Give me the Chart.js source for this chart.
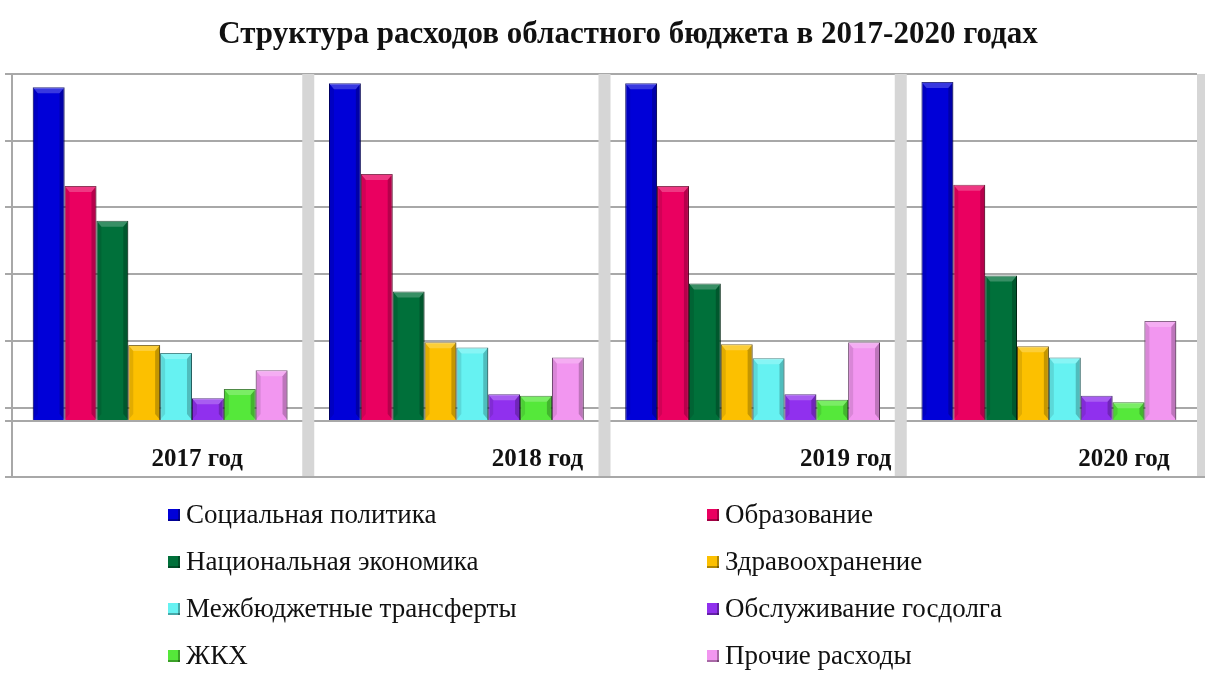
<!DOCTYPE html>
<html>
<head>
<meta charset="utf-8">
<script src="https://cdn.jsdelivr.net/npm/chart.js@4"></script>
<style>
  body { margin: 0; background: #fff; width: 1212px; height: 682px; overflow: hidden; }
  #wrap { position: relative; width: 1212px; height: 682px; }
</style>
</head>
<body>
<div id="wrap"><canvas id="chart"></canvas></div>
<script>
// categories and series (units: share of spending)
const years = ['2017 год', '2018 год', '2019 год', '2020 год'];
const seriesNames = [
  'Социальная политика', 'Образование',
  'Национальная экономика', 'Здравоохранение',
  'Межбюджетные трансферты', 'Обслуживание госдолга',
  'ЖКХ', 'Прочие расходы'
];
const social    = [25.0, 25.3, 25.3, 25.4];
const education = [17.6, 18.5, 17.6, 17.7];
const economy   = [15.0, 9.7, 10.3, 10.9];
const health    = [5.7, 5.9, 5.75, 5.6];
const transfers = [5.1, 5.5, 4.7, 4.75];
const debt      = [1.7, 2.0, 2.0, 1.9];
const housing   = [2.4, 1.9, 1.6, 1.4];
const other     = [3.8, 4.75, 5.9, 7.5];
const gridValues = [0, 1, 6, 11, 16, 21, 26];
const chartTitle = 'Структура расходов областного бюджета в 2017-2020 годах';

const seriesValues = [social, education, economy, health, transfers, debt, housing, other];
const fillColors = ['#0000d8', '#ea0060', '#00703a', '#fcc000', '#66f2f2', '#9030ee', '#55e83a', '#f296f0'];
const edgeColors = ['#00006a', '#70002c', '#003018', '#6a5000', '#207070', '#3a1070', '#1f6a14', '#6a3c6a'];

const serif = '"Liberation Serif", "Times New Roman", serif';
// per-year horizontal shift of the category label (the original places them right of centre)
const labelShift = [37, 81, 93, 75];

const panelDecor = {
  id: 'panelDecor',
  beforeDatasetsDraw(chart) {
    const {ctx, chartArea, scales} = chart;
    const x = scales.x;
    const bottom = 477;
    ctx.save();
    ctx.fillStyle = '#d6d6d6';
    for (let i = 1; i <= years.length; i++) {
      const edge = x.getPixelForValue(i - 0.5);
      if (i === years.length) ctx.fillRect(chartArea.right, chartArea.top, 8, bottom - chartArea.top);
      else ctx.fillRect(edge - 6, chartArea.top, 12, bottom - chartArea.top);
    }
    ctx.restore();
  },
  afterDatasetsDraw(chart) {
    // soft bevel on each bar, like the Excel column style
    const ctx = chart.ctx;
    ctx.save();
    chart.data.datasets.forEach((ds, di) => {
      chart.getDatasetMeta(di).data.forEach(bar => {
        const {x, y, base, width} = bar.getProps(['x', 'y', 'base', 'width'], true);
        const l = x - width / 2, r = x + width / 2;
        const b = Math.min(6, (base - y) / 2), s = Math.min(5, width / 4);
        ctx.fillStyle = 'rgba(255,255,255,0.22)';
        ctx.beginPath();
        ctx.moveTo(l, y); ctx.lineTo(r, y); ctx.lineTo(r - s, y + b); ctx.lineTo(l + s, y + b);
        ctx.fill();
        ctx.fillStyle = 'rgba(0,0,0,0.22)';
        ctx.beginPath();
        ctx.moveTo(r, y); ctx.lineTo(r, base); ctx.lineTo(r - s, base - b); ctx.lineTo(r - s, y + b);
        ctx.fill();
        ctx.fillStyle = 'rgba(0,0,0,0.1)';
        ctx.beginPath();
        ctx.moveTo(l, y); ctx.lineTo(l + s, y + b); ctx.lineTo(l + s, base - b); ctx.lineTo(l, base);
        ctx.fill();
      });
    });
    ctx.restore();
  },
  afterDraw(chart) {
    const {ctx, chartArea, scales} = chart;
    const x = scales.x;
    const bottom = 477;
    ctx.save();
    // frame below the base line
    ctx.strokeStyle = '#a8a8a8';
    ctx.lineWidth = 2;
    ctx.beginPath();
    ctx.moveTo(chartArea.left, chartArea.bottom);
    ctx.lineTo(chartArea.left, bottom);
    ctx.moveTo(chartArea.left - 7, bottom);
    ctx.lineTo(chartArea.right + 8, bottom);
    ctx.stroke();

    // title
    ctx.fillStyle = '#111';
    ctx.textAlign = 'center';
    ctx.textBaseline = 'middle';
    ctx.font = 'bold 31px ' + serif;
    ctx.fillText(chartTitle, 628, 35);

    // category labels
    ctx.font = 'bold 25px ' + serif;
    years.forEach((y, i) => {
      ctx.fillText(y, x.getPixelForValue(i) + labelShift[i], 460);
    });

    // two-column legend, row by row
    ctx.textAlign = 'left';
    ctx.font = '27px ' + serif;
    const colLeft = [168, 707];
    seriesNames.forEach((name, i) => {
      const lx = colLeft[i % 2];
      const ly = 515 + Math.floor(i / 2) * 47;
      ctx.fillStyle = fillColors[i];
      ctx.fillRect(lx, ly - 6, 12, 12);
      ctx.fillStyle = 'rgba(0,0,0,0.3)';
      ctx.fillRect(lx + 10, ly - 6, 2, 12);
      ctx.fillRect(lx, ly + 4, 12, 2);
      ctx.fillStyle = '#111';
      ctx.fillText(name, lx + 18, ly + 1);
    });
    ctx.restore();
  }
};

const chart = new Chart(document.getElementById('chart'), {
  type: 'bar',
  data: {
    labels: years,
    datasets: seriesNames.map((name, i) => ({
      label: name,
      data: seriesValues[i],
      backgroundColor: fillColors[i],
      borderColor: edgeColors[i],
      borderWidth: 1,
      categoryPercentage: 0.86,
      barPercentage: 1.0
    }))
  },
  options: {
    responsive: true,
    maintainAspectRatio: false,
    animation: false,
    layout: { padding: { left: 5, right: 15, top: 74, bottom: 255 } },
    plugins: {
      legend: { display: false },
      tooltip: { enabled: false },
      title: { display: false }
    },
    scales: {
      x: {
        offset: true,
        ticks: { display: false },
        grid: { offset: true, drawOnChartArea: false, drawTicks: true, tickLength: 6, color: '#a8a8a8', lineWidth: 1 },
        border: { display: true, color: '#a8a8a8', width: 2 }
      },
      y: {
        min: 0,
        max: 26,
        afterBuildTicks: (scale) => { scale.ticks = gridValues.map(v => ({ value: v })); },
        ticks: { display: false },
        grid: { color: '#a8a8a8', lineWidth: 2, tickLength: 7, drawTicks: true },
        border: { display: true, color: '#a8a8a8', width: 2 }
      }
    }
  },
  plugins: [panelDecor]
});
</script>
</body>
</html>
